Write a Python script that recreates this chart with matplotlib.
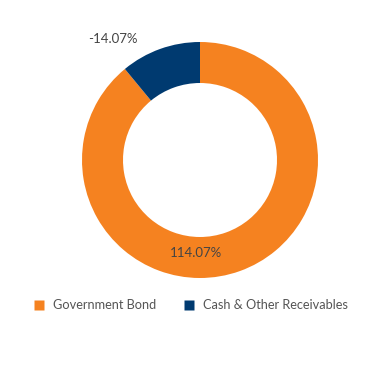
import matplotlib.pyplot as plt
from matplotlib.lines import Line2D

# Portfolio allocation (values in %)
categories = ["Government Bond", "Cash & Other Receivables"]
values = [114.07, -14.07]
colors = ["#F58220", "#003A70"]

plt.rcParams["font.family"] = ["Lato", "DejaVu Sans"]

fig = plt.figure(figsize=(3.69, 3.90), dpi=100)
ax = fig.add_axes([0, 0, 1, 1])

# negative share can't be drawn as a wedge, so use magnitudes for sizes
sizes = [abs(v) for v in values]
ax.pie(sizes, colors=colors, startangle=90, counterclock=False,
       center=(200, 230), radius=118, frame=True,
       wedgeprops=dict(width=41, edgecolor="none"))
ax.set_xlim(0, 369)
ax.set_ylim(0, 390)
ax.set_aspect("equal")
ax.axis("off")

# data labels (placed like the original)
label_pos = [(196, 137), (113, 351)]
for v, (x, y) in zip(values, label_pos):
    ax.text(x, y, f"{v:.2f}%", ha="center", va="center",
            fontsize=9.5, color="#444444")

handles = [Line2D([], [], marker="s", linestyle="none", markersize=7,
                  markerfacecolor=c, markeredgecolor="none") for c in colors]
fig.legend(handles, categories, loc="center", bbox_to_anchor=(0.507, 1 - 305 / 390),
           ncol=2, frameon=False, fontsize=9.2, handletextpad=0.1,
           columnspacing=1.5, labelcolor="#555555")

fig.savefig("out.png", dpi=100)
